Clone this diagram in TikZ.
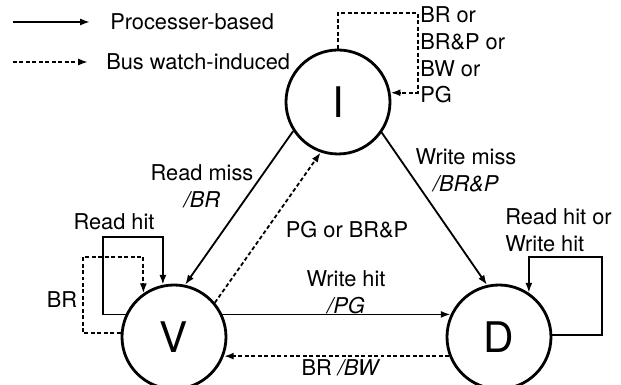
\documentclass[tikz,border=0pt]{standalone}
\usepackage{fontspec}
\setmainfont{TeX Gyre Heros}
\usetikzlibrary{arrows.meta}
\tikzstyle{cstate}   = [circle, draw, line width=2pt, minimum size=2.6cm,
inner sep=0pt, font=\fontsize{30}{36}\selectfont]
\tikzstyle{lbl}      = [inner sep=0pt, align=center, font=\fontsize{15.5}{19}\selectfont]
\tikzstyle{lbll}     = [lbl, align=left, anchor=west]
\tikzstyle{arrow}    = [->, >={Latex[length=7pt,width=5pt]}, line width=1.3pt]
\tikzstyle{busarrow} = [arrow, dash pattern=on 2.8pt off 1.8pt]

\begin{document}
\begin{tikzpicture}
      \useasboundingbox (0,0) rectangle (15.525,9.625);

      \node(I) [cstate] at (8.45,7.075)  {I};
      \node(V) [cstate] at (4.35,1.2)    {V};
      \node(D) [cstate] at (12.475,1.2)  {D};

      \coordinate (Lp1) at (0.325,9.075);
      \coordinate (Lp2) at (2.25,9.075);
      \coordinate (Lb1) at (0.325,8.075);
      \coordinate (Lb2) at (2.2,8.075);
      \node(Lp)  [lbll] at (2.75,9.075)  {Processer-based};
      \node(Lb)  [lbll] at (2.65,8.075)  {Bus watch-induced};

      \coordinate (Iloop) at (10.45,9.3);
      \coordinate (Vhit)  at (2.575,3.7);
      \coordinate (Vbr)   at (2.075,3.2);
      \coordinate (Dhit)  at (15.05,3.2);

      \node(Ilbl) [lbll] at (10.5,8.25)   {BR or\\BR\&P or\\BW or\\PG};
      \node(RM)   [lbl]  at (5.05,4.975)  {Read miss\\\textit{/BR}};
      \node(WM)   [lbl]  at (11.65,5.375) {Write miss\\\textit{/BR\&P}};
      \node(PB)   [lbl]  at (8.675,3.875) {PG or BR\&P};
      \node(WH)   [lbl]  at (8.65,2.325)  {Write hit\\\textit{/PG}};
      \node(BW)   [lbl]  at (8.525,0.425) {BR \textit{/BW}};
      \node(RH)   [lbl]  at (2.85,4.075)  {Read hit};
      \node(BRv)  [lbl]  at (1.55,2.125)  {BR};
      \node(RWH)  [lbll] at (12.625,3.87) {Read hit or\\Write hit};

      \draw [arrow]    (Lp1)     -- (Lp2);
      \draw [busarrow] (Lb1)     -- (Lb2);
      \draw [busarrow] (I.north) |- (Iloop) |- (I.10);
      \draw [arrow]    (I.213)   -- (V.78);
      \draw [busarrow] (V.40)    -- (I.251);
      \draw [arrow]    (I.325)   -- (D.103);
      \draw [arrow]    (V.25)    -- (D.155);
      \draw [busarrow] (D.201)   -- (V.-21);
      \draw [arrow]    (V.155)   -| (Vhit) -| (V.102);
      \draw [busarrow] (V.176)   -| (Vbr)  -| (V.125);
      \draw [arrow]    (D.2)     -| (Dhit) -| (D.56);
    \end{tikzpicture}
\end{document}
